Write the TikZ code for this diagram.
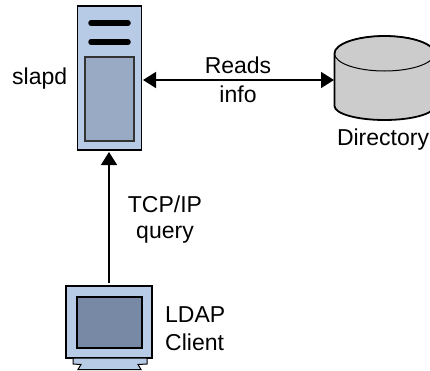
\documentclass[tikz,border=0pt]{standalone}
\usepackage{fontspec}
\setmainfont{Liberation Sans}
\usetikzlibrary{arrows.meta,shapes.geometric}
\definecolor{caseblue}{RGB}{184,203,230}
\definecolor{panelblue}{RGB}{152,170,196}
\definecolor{screenblue}{RGB}{120,137,166}
\definecolor{drumgray}{RGB}{204,204,204}
\tikzset{
  lbl/.style={font=\fontsize{23}{28}\selectfont,align=center,inner sep=0pt},
  conn/.style={line width=1.6pt,-{Triangle[length=13pt,width=16pt]}},
  conntwo/.style={line width=1.6pt,{Triangle[length=13pt,width=16pt]}-{Triangle[length=13pt,width=16pt]}},
  blk/.style={draw=black,line width=1.3pt,inner sep=0pt,outer sep=0pt}
}
\begin{document}
\begin{tikzpicture}[x=1pt,y=-1pt]
    \useasboundingbox (0,0) rectangle (430,370);
%	the server:
    \node[blk,line width=1.8pt,fill=caseblue,minimum width=64pt,minimum height=144pt] (server) at (109.5,78) {};
    \node[blk,draw=black!80,fill=panelblue,minimum width=49pt,minimum height=84pt] (panel) at (109.5,99) {};
    \draw[line width=5.5pt,line cap=round] (91,23) -- (128,23);
    \draw[line width=5.5pt,line cap=round] (91,42) -- (128,42);
    \node[lbl,anchor=base west] (slapdlbl) at (12,84) {slapd};
%	the directory:
    \fill[drumgray] (334.5,53.5) -- (334.5,106) arc[start angle=180,end angle=360,x radius=50pt,y radius=14pt] -- (434.5,53.5) -- cycle;
    \node[draw=black,line width=1pt,fill=drumgray,ellipse,minimum width=100pt,minimum height=35pt,inner sep=0pt,outer sep=0pt] (drumtop) at (384.5,53.5) {};
    \draw[line width=1.8pt] (334.5,106) -- (334.5,53.5) arc[start angle=180,end angle=0,x radius=50pt,y radius=17.5pt] -- (434.5,106) arc[start angle=360,end angle=180,x radius=50pt,y radius=14pt];
    \coordinate (drumin) at (334,80);
    \node[lbl,anchor=base] (dirlbl) at (383,145) {Directory};
%	the client:
    \node[blk,fill=caseblue,minimum width=86pt,minimum height=72pt] (client) at (109,322) {};
    \node[draw=black,line width=2.4pt,fill=screenblue,minimum width=65pt,minimum height=51pt,inner sep=0pt] (screen) at (109.5,322.5) {};
    \fill[caseblue,draw=black,line width=1pt] (73,358) -- (73,364) -- (81,364.5) -- (78,369.5) -- (141,369.5) -- (138,364.5) -- (147,364) -- (147,358) -- cycle;
    \node[lbl,anchor=west,align=left] (clientlbl) at (165,329) {LDAP\\Client};
%	the connectors:
    \coordinate (serverin) at (109,152);
    \coordinate (serverout) at (143,80);
    \coordinate (clientup) at (109,283);
    \draw[conn] (clientup) -- (serverin);
    \draw[conntwo] (serverout) -- (drumin);
    \node[lbl,font=\fontsize{23}{29}\selectfont] (readslbl) at (238,79.5) {Reads\\info};
    \node[lbl,font=\fontsize{23}{26}\selectfont] (querylbl) at (165,220) {TCP/IP\\query};
\end{tikzpicture}
\end{document}
